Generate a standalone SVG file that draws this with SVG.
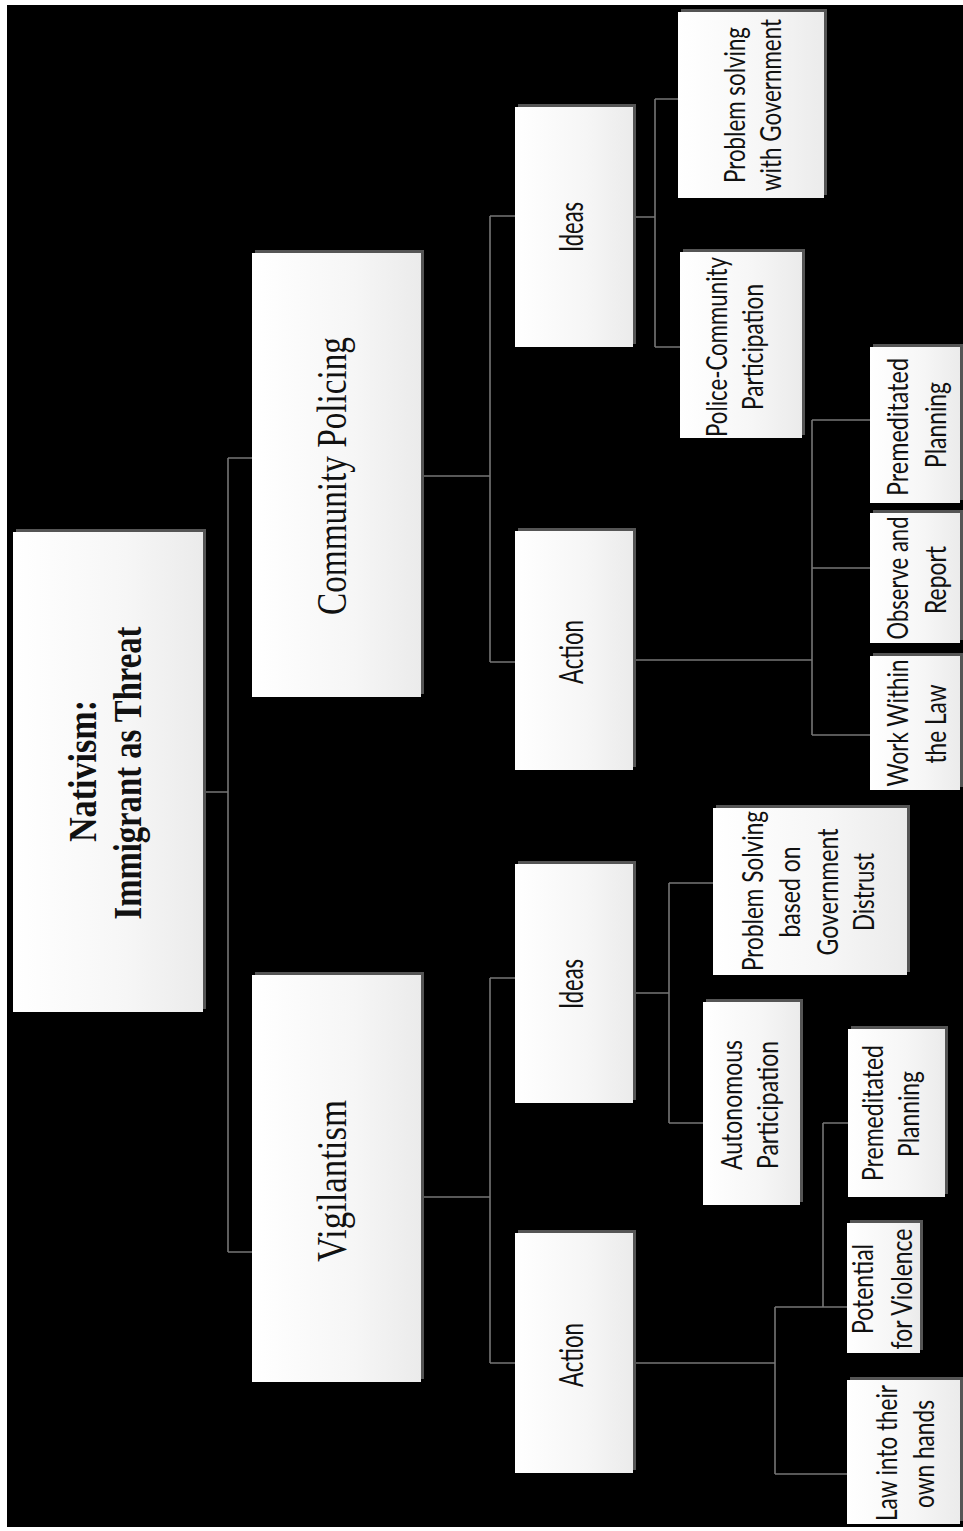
<svg xmlns="http://www.w3.org/2000/svg" width="963" height="1531" viewBox="0 0 963 1531">
<defs>
<linearGradient id="g" x1="0" y1="0" x2="1" y2="0">
<stop offset="0" stop-color="#ffffff"/>
<stop offset="0.6" stop-color="#f6f6f6"/>
<stop offset="1" stop-color="#ebebeb"/>
</linearGradient>
<style>
.sh{fill:#555555}
.bx{fill:url(#g)}
.c{fill:none;stroke:#767676;stroke-width:1.6}
.s{font-family:Lato,"Liberation Sans",sans-serif;font-size:29px;fill:#111;text-anchor:middle}
.m{font-family:Lato,"Liberation Sans",sans-serif;font-size:32px;fill:#111;text-anchor:middle}
.t{font-family:"Liberation Serif","Times New Roman",serif;font-size:42px;fill:#111;text-anchor:middle}
.b{font-family:"Liberation Serif","Times New Roman",serif;font-size:40px;font-weight:bold;fill:#111;text-anchor:middle}
</style>
</defs>
<rect x="0" y="0" width="963" height="1531" fill="#ffffff"/>
<rect x="7" y="5" width="956" height="1522" fill="#000000"/>

<g id="connectors">
<path class="c" d="M205 792H228M228 458V1252M228 458H252M228 1252H252"/>
<path class="c" d="M422 476H490M490 216V662M490 216H515M490 662H515"/>
<path class="c" d="M422 1197H490M490 978V1363M490 978H515M490 1363H515"/>
<path class="c" d="M633 217H655M655 99V347M655 99H678M655 347H680"/>
<path class="c" d="M633 660H812M812 420V735M812 420H870M812 568H870M812 735H870"/>
<path class="c" d="M633 993H669M669 883V1123M669 883H713M669 1123H703"/>
<path class="c" d="M633 1363H775M775 1307V1474M775 1307H847M775 1474H847M823 1123V1307M823 1123H848"/>
</g>

<g id="n-root">
<rect class="sh" x="16" y="529" width="190" height="480"/>
<rect class="bx" x="13" y="532" width="190" height="480"/>
<text class="b" x="96" y="771" transform="rotate(-90 96 771)" textLength="142" lengthAdjust="spacingAndGlyphs">Nativism:</text>
<text class="b" x="141" y="773" transform="rotate(-90 141 773)" textLength="293" lengthAdjust="spacingAndGlyphs">Immigrant as Threat</text>
</g>

<g id="n-cp">
<rect class="sh" x="255" y="250" width="169" height="444"/>
<rect class="bx" x="252" y="253" width="169" height="444"/>
<text class="t" x="346" y="476" transform="rotate(-90 346 476)" textLength="278" lengthAdjust="spacingAndGlyphs">Community Policing</text>
</g>

<g id="n-v">
<rect class="sh" x="255" y="972" width="169" height="407"/>
<rect class="bx" x="252" y="975" width="169" height="407"/>
<text class="t" x="346" y="1181" transform="rotate(-90 346 1181)" textLength="162" lengthAdjust="spacingAndGlyphs">Vigilantism</text>
</g>

<g id="n-cp-ideas">
<rect class="sh" x="518" y="104" width="118" height="240"/>
<rect class="bx" x="515" y="107" width="118" height="240"/>
<text class="m" x="583" y="227" transform="rotate(-90 583 227)" textLength="50" lengthAdjust="spacingAndGlyphs">Ideas</text>
</g>

<g id="n-cp-action">
<rect class="sh" x="518" y="528" width="118" height="239"/>
<rect class="bx" x="515" y="531" width="118" height="239"/>
<text class="m" x="583" y="652" transform="rotate(-90 583 652)" textLength="64" lengthAdjust="spacingAndGlyphs">Action</text>
</g>

<g id="n-v-ideas">
<rect class="sh" x="518" y="861" width="118" height="239"/>
<rect class="bx" x="515" y="864" width="118" height="239"/>
<text class="m" x="583" y="984" transform="rotate(-90 583 984)" textLength="50" lengthAdjust="spacingAndGlyphs">Ideas</text>
</g>

<g id="n-v-action">
<rect class="sh" x="518" y="1230" width="118" height="240"/>
<rect class="bx" x="515" y="1233" width="118" height="240"/>
<text class="m" x="583" y="1355" transform="rotate(-90 583 1355)" textLength="64" lengthAdjust="spacingAndGlyphs">Action</text>
</g>

<g id="n-psg">
<rect class="sh" x="681" y="9" width="146" height="186"/>
<rect class="bx" x="678" y="12" width="146" height="186"/>
<text class="s" x="745" y="105" transform="rotate(-90 745 105)" textLength="156" lengthAdjust="spacingAndGlyphs">Problem solving</text>
<text class="s" x="781" y="105" transform="rotate(-90 781 105)" textLength="172" lengthAdjust="spacingAndGlyphs">with Government</text>
</g>

<g id="n-pcp">
<rect class="sh" x="683" y="249" width="122" height="186"/>
<rect class="bx" x="680" y="252" width="122" height="186"/>
<text class="s" x="727" y="347" transform="rotate(-90 727 347)" textLength="180" lengthAdjust="spacingAndGlyphs">Police-Community</text>
<text class="s" x="763" y="347" transform="rotate(-90 763 347)" textLength="126" lengthAdjust="spacingAndGlyphs">Participation</text>
</g>

<g id="n-cp-pp">
<rect class="sh" x="873" y="344" width="90" height="156"/>
<rect class="bx" x="870" y="347" width="90" height="156"/>
<text class="s" x="908" y="427" transform="rotate(-90 908 427)" textLength="138" lengthAdjust="spacingAndGlyphs">Premeditated</text>
<text class="s" x="946" y="425" transform="rotate(-90 946 425)" textLength="86" lengthAdjust="spacingAndGlyphs">Planning</text>
</g>

<g id="n-or">
<rect class="sh" x="873" y="510" width="90" height="130"/>
<rect class="bx" x="870" y="513" width="90" height="130"/>
<text class="s" x="908" y="578" transform="rotate(-90 908 578)" textLength="123" lengthAdjust="spacingAndGlyphs">Observe and</text>
<text class="s" x="946" y="580" transform="rotate(-90 946 580)" textLength="68" lengthAdjust="spacingAndGlyphs">Report</text>
</g>

<g id="n-wwl">
<rect class="sh" x="873" y="653" width="90" height="134"/>
<rect class="bx" x="870" y="656" width="90" height="134"/>
<text class="s" x="908" y="723" transform="rotate(-90 908 723)" textLength="127" lengthAdjust="spacingAndGlyphs">Work Within</text>
<text class="s" x="946" y="724" transform="rotate(-90 946 724)" textLength="79" lengthAdjust="spacingAndGlyphs">the Law</text>
</g>

<g id="n-psd">
<rect class="sh" x="716" y="805" width="194" height="167"/>
<rect class="bx" x="713" y="808" width="194" height="167"/>
<text class="s" x="763" y="891" transform="rotate(-90 763 891)" textLength="160" lengthAdjust="spacingAndGlyphs">Problem Solving</text>
<text class="s" x="800" y="892" transform="rotate(-90 800 892)" textLength="91" lengthAdjust="spacingAndGlyphs">based on</text>
<text class="s" x="838" y="892" transform="rotate(-90 838 892)" textLength="127" lengthAdjust="spacingAndGlyphs">Government</text>
<text class="s" x="874" y="892" transform="rotate(-90 874 892)" textLength="78" lengthAdjust="spacingAndGlyphs">Distrust</text>
</g>

<g id="n-ap">
<rect class="sh" x="706" y="999" width="97" height="203"/>
<rect class="bx" x="703" y="1002" width="97" height="203"/>
<text class="s" x="742" y="1105" transform="rotate(-90 742 1105)" textLength="130" lengthAdjust="spacingAndGlyphs">Autonomous</text>
<text class="s" x="778" y="1105" transform="rotate(-90 778 1105)" textLength="128" lengthAdjust="spacingAndGlyphs">Participation</text>
</g>

<g id="n-v-pp">
<rect class="sh" x="851" y="1026" width="97" height="168"/>
<rect class="bx" x="848" y="1029" width="97" height="168"/>
<text class="s" x="883" y="1113" transform="rotate(-90 883 1113)" textLength="136" lengthAdjust="spacingAndGlyphs">Premeditated</text>
<text class="s" x="919" y="1114" transform="rotate(-90 919 1114)" textLength="86" lengthAdjust="spacingAndGlyphs">Planning</text>
</g>

<g id="n-pv">
<rect class="sh" x="850" y="1220" width="73" height="130"/>
<rect class="bx" x="847" y="1223" width="73" height="130"/>
<text class="s" x="873" y="1289" transform="rotate(-90 873 1289)" textLength="90" lengthAdjust="spacingAndGlyphs">Potential</text>
<text class="s" x="912" y="1289" transform="rotate(-90 912 1289)" textLength="121" lengthAdjust="spacingAndGlyphs">for Violence</text>
</g>

<g id="n-loh">
<rect class="sh" x="850" y="1377" width="113" height="144"/>
<rect class="bx" x="847" y="1380" width="113" height="144"/>
<text class="s" x="897" y="1453" transform="rotate(-90 897 1453)" textLength="136" lengthAdjust="spacingAndGlyphs">Law into their</text>
<text class="s" x="934" y="1454" transform="rotate(-90 934 1454)" textLength="108" lengthAdjust="spacingAndGlyphs">own hands</text>
</g>
</svg>
